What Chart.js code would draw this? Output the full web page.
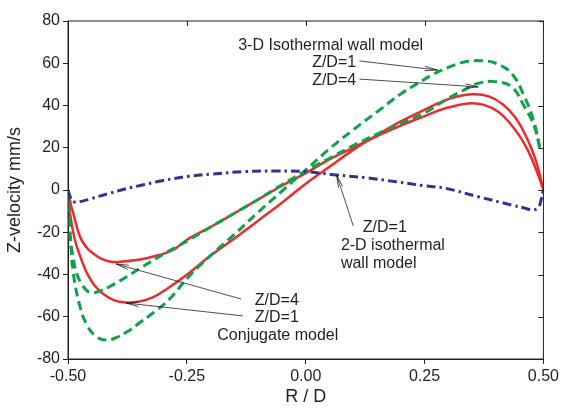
<!DOCTYPE html>
<html>
<head>
<meta charset="utf-8">
<script src="https://cdn.jsdelivr.net/npm/chart.js@4"></script>
<style>
  html, body { margin: 0; padding: 0; background: #fff; }
  #wrap { width: 562px; height: 412px; }
</style>
</head>
<body>
<div id="wrap"><canvas id="chart" width="562" height="412"></canvas></div>
<script>
// tick values
const xTicks = [-0.5, -0.25, 0, 0.25, 0.5];
const yTicks = [-80, -60, -40, -20, 0, 20, 40, 60, 80];

// Conjugate model, Z/D=1 (red)
const conjZ1X = [-0.5, -0.495, -0.485, -0.47, -0.46, -0.445, -0.427, -0.405, -0.378, -0.35, -0.323, -0.29, -0.246, -0.2, -0.15, -0.1, -0.05, 0, 0.05, 0.1, 0.15, 0.2, 0.25, 0.3, 0.35, 0.385, 0.415, 0.44, 0.46, 0.475, 0.488, 0.5];
const conjZ1Y = [0, -12, -24, -34, -39.4, -45, -49, -52, -53.3, -52.8, -51, -46.5, -39.4, -31, -23, -14.5, -6, 3, 11, 19, 26, 32.5, 38, 43, 45.3, 44.3, 40.5, 34.5, 27, 19.5, 11, 0];

// Conjugate model, Z/D=4 (red)
const conjZ4X = [-0.5, -0.495, -0.489, -0.475, -0.46, -0.447, -0.43, -0.41, -0.39, -0.36, -0.33, -0.309, -0.28, -0.246, -0.2, -0.15, -0.1, -0.05, 0, 0.05, 0.1, 0.15, 0.2, 0.25, 0.294, 0.343, 0.375, 0.405, 0.43, 0.45, 0.467, 0.485, 0.5];
const conjZ4Y = [0, -6, -11, -22, -27.5, -30, -32.5, -34, -34, -33.3, -32, -30.8, -28.5, -23, -17.5, -11, -4.5, 2, 8, 14.5, 20, 25.5, 30.5, 35, 38.7, 41, 40.3, 37, 31.5, 25.5, 18.9, 9.5, 0];

// 3-D isothermal wall model, Z/D=1 (green)
const iso3Z1X = [-0.5, -0.495, -0.489, -0.475, -0.46, -0.44, -0.42, -0.4, -0.375, -0.35, -0.32, -0.288, -0.246, -0.2, -0.15, -0.1, -0.05, 0, 0.05, 0.1, 0.15, 0.2, 0.232, 0.27, 0.3, 0.336, 0.37, 0.4, 0.433, 0.46, 0.481, 0.494];
const iso3Z1Y = [0, -22, -39, -55, -64, -69.5, -71, -70, -67, -63, -58, -52, -41, -31, -21, -10.5, -0.5, 9.5, 19.5, 28.5, 37, 45.5, 50, 55, 58, 60.7, 61.2, 60, 55.2, 44.2, 31.6, 18];

// 3-D isothermal wall model, Z/D=4 (green)
const iso3Z4X = [-0.5, -0.497, -0.49, -0.482, -0.47, -0.458, -0.447, -0.435, -0.413, -0.38, -0.343, -0.3, -0.246, -0.2, -0.15, -0.1, -0.05, 0, 0.05, 0.1, 0.15, 0.2, 0.25, 0.294, 0.33, 0.363, 0.398, 0.433, 0.46, 0.481, 0.494];
const iso3Z4Y = [0, -20, -31, -39.4, -45, -48, -48.6, -48, -45.8, -41.5, -36.3, -30.5, -23.7, -17.5, -11, -4.5, 2.5, 9, 15, 21, 26.5, 31.5, 36.5, 42.6, 47, 50.5, 51.3, 48.9, 39.4, 30, 18];

// 2-D isothermal wall model, Z/D=1 (blue)
const iso2Z1X = [-0.5, -0.495, -0.489, -0.475, -0.45, -0.413, -0.38, -0.343, -0.3, -0.246, -0.2, -0.128, -0.06, 0, 0.065, 0.13, 0.19, 0.25, 0.294, 0.363, 0.433, 0.46, 0.478, 0.49, 0.495, 0.5];
const iso2Z1Y = [0, -3.5, -5.5, -5.5, -4, -1.6, 0.5, 2.4, 4.5, 6.5, 7.5, 8.7, 9, 8.7, 7.1, 5.7, 3.9, 2, 0.8, -3.2, -7.1, -8.5, -9.5, -8, -4.7, 0];

// text labels and leader arrows, in data units
const labels = [
  { text: "3-D Isothermal wall model", x: -0.142, y: 66.3 },
  { text: "Z/D=1", x: 0.0135, y: 58.2 },
  { text: "Z/D=4", x: 0.0135, y: 49.7 },
  { text: "Z/D=4", x: -0.107, y: -54.4 },
  { text: "Z/D=1", x: -0.107, y: -62.5 },
  { text: "Conjugate model", x: -0.186, y: -71 },
  { text: "Z/D=1", x: 0.12, y: -19.9 },
  { text: "2-D isothermal", x: 0.074, y: -28.4 },
  { text: "wall model", x: 0.074, y: -36.9 }
];
const arrows = [
  { from: [0.113, 61.1], to: [0.277, 56.8] },
  { from: [0.113, 52.5], to: [0.363, 48.8] },
  { from: [-0.136, -51.6], to: [-0.399, -35] },
  { from: [-0.132, -59.6], to: [-0.378, -53.5] },
  { from: [0.1, -17], to: [0.065, 7.1] }
];

const toPoints = (xs, ys) => xs.map((x, i) => ({ x, y: ys[i] }));

const RED = "#ec2b2f";
const GREEN = "#12a14b";
const BLUE = "#2c3494";
const INK = "#231f20";
const FONT = "'Liberation Sans', Arial, sans-serif";

// draws labels, arrows, the frame and the inward ticks on top/right
const annotate = {
  id: "annotate",
  afterDatasetsDraw(chart) {
    const { ctx, chartArea: a, scales: { x, y } } = chart;
    ctx.save();
    ctx.strokeStyle = INK;
    ctx.lineWidth = 1;
    ctx.strokeRect(a.left, a.top, a.right - a.left, a.bottom - a.top);
    xTicks.forEach((v) => {
      const px = Math.round(x.getPixelForValue(v)) + 0.5;
      ctx.beginPath();
      ctx.moveTo(px, a.top);
      ctx.lineTo(px, a.top + 5);
      ctx.stroke();
    });
    yTicks.forEach((v) => {
      const py = Math.round(y.getPixelForValue(v)) + 0.5;
      ctx.beginPath();
      ctx.moveTo(a.right, py);
      ctx.lineTo(a.right - 5, py);
      ctx.stroke();
    });

    ctx.fillStyle = INK;
    ctx.font = "16px " + FONT;
    ctx.textBaseline = "alphabetic";
    ctx.textAlign = "left";
    labels.forEach((l) => ctx.fillText(l.text, x.getPixelForValue(l.x), y.getPixelForValue(l.y)));

    ctx.lineWidth = 0.8;
    arrows.forEach((ar) => {
      const x0 = x.getPixelForValue(ar.from[0]), y0 = y.getPixelForValue(ar.from[1]);
      const x1 = x.getPixelForValue(ar.to[0]), y1 = y.getPixelForValue(ar.to[1]);
      const ang = Math.atan2(y1 - y0, x1 - x0);
      ctx.beginPath();
      ctx.moveTo(x0, y0);
      ctx.lineTo(x1, y1);
      [0.17, -0.17].forEach((d) => {
        ctx.moveTo(x1, y1);
        ctx.lineTo(x1 - 13 * Math.cos(ang + d), y1 - 13 * Math.sin(ang + d));
      });
      ctx.stroke();
    });
    ctx.restore();
  }
};

const line = (label, xs, ys, color, dash, width) => ({
  label,
  data: toPoints(xs, ys),
  borderColor: color,
  borderWidth: width,
  borderDash: dash,
  borderJoinStyle: "round",
  pointRadius: 0,
  fill: false,
  tension: 0.4
});

new Chart(document.getElementById("chart"), {
  type: "line",
  data: {
    datasets: [
      line("2-D isothermal Z/D=1", iso2Z1X, iso2Z1Y, BLUE, [9, 4, 2.5, 4], 3),
      line("3-D isothermal Z/D=1", iso3Z1X, iso3Z1Y, GREEN, [9, 5], 3),
      line("3-D isothermal Z/D=4", iso3Z4X, iso3Z4Y, GREEN, [9, 5], 3),
      line("Conjugate Z/D=1", conjZ1X, conjZ1Y, RED, [], 2.5),
      line("Conjugate Z/D=4", conjZ4X, conjZ4Y, RED, [], 2.5)
    ]
  },
  options: {
    responsive: false,
    animation: false,
    layout: { padding: { left: 0, top: 21, right: 13, bottom: 0 } },
    plugins: { legend: { display: false }, tooltip: { enabled: false } },
    scales: {
      x: {
        type: "linear",
        min: -0.5,
        max: 0.5,
        afterFit: (s) => { s.height = 53; },
        afterBuildTicks: (s) => { s.ticks = xTicks.map((v) => ({ value: v })); },
        ticks: {
          color: INK,
          font: { family: FONT, size: 16 },
          padding: 3,
          maxRotation: 0,
          callback: (v) => v.toFixed(2)
        },
        grid: { drawOnChartArea: false, drawTicks: true, tickLength: 5, color: INK },
        border: { display: true, color: INK },
        title: { display: true, text: "R / D", color: INK, font: { family: FONT, size: 18 }, padding: { top: 0 } }
      },
      y: {
        type: "linear",
        min: -80,
        max: 80,
        afterFit: (s) => { s.width = 68; },
        afterBuildTicks: (s) => { s.ticks = yTicks.map((v) => ({ value: v })); },
        ticks: { color: INK, font: { family: FONT, size: 16 }, padding: 3 },
        grid: { drawOnChartArea: false, drawTicks: true, tickLength: 5, color: INK },
        border: { display: true, color: INK },
        title: { display: true, text: "Z-velocity mm/s", color: INK, font: { family: FONT, size: 18 }, padding: { bottom: 2 } }
      }
    }
  },
  plugins: [annotate]
});
</script>
</body>
</html>
